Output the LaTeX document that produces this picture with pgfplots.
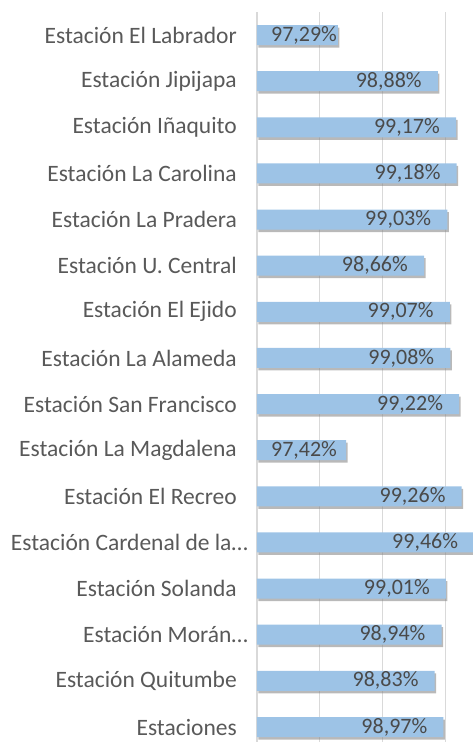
\documentclass[border=0pt]{standalone}
\usepackage{pgfplots}
\pgfplotsset{compat=1.18}
\usepackage{pgfplotstable}
\usepackage{fontspec}
\setmainfont{Carlito}
\usetikzlibrary{shadows}
\definecolor{barblue}{HTML}{9DC3E6}
\definecolor{labgray}{HTML}{595959}
\definecolor{valgray}{HTML}{4A4A4A}
\definecolor{gridgray}{HTML}{D9D9D9}
\pgfplotstableread{
y val lx lab
15 97.29 97.276 97,29\%
14 98.88 98.625 98,88\%
13 99.17 98.915 99,17\%
12 99.18 98.925 99,18\%
11 99.03 98.775 99,03\%
10 98.66 98.405 98,66\%
9 99.07 98.815 99,07\%
8 99.08 98.825 99,08\%
7 99.22 98.965 99,22\%
6 97.42 97.276 97,42\%
5 99.26 99.005 99,26\%
4 99.46 99.205 99,46\%
3 99.01 98.755 99,01\%
2 98.94 98.685 98,94\%
1 98.83 98.575 98,83\%
0 98.97 98.715 98,97\%
}\datatable
\begin{document}
\begin{tikzpicture}
\useasboundingbox (-257pt,0pt) rectangle (216pt,742pt);
\begin{axis}[
  at={(0pt,0pt)}, anchor=south west,
  scale only axis, width=216pt, height=730pt,
  xmin=96, xmax=99.44, ymin=-0.325, ymax=15.5,
  xtick={96,97,98,99}, xticklabels={},
  xmajorgrids, grid style={gridgray, line width=1.3pt},
  ytick={0,1,2,3,4,5,6,7,8,9,10,11,12,13,14,15},
  yticklabels={Estaciones, Estación Quitumbe, {Estación Morán…\hspace*{-11pt}}, Estación Solanda, {Estación Cardenal de la…\hspace*{-11pt}}, Estación El Recreo, Estación La Magdalena, Estación San Francisco, Estación La Alameda, Estación El Ejido, Estación U. Central, Estación La Pradera, Estación La Carolina, Estación Iñaquito, Estación Jipijapa, Estación El Labrador},
  major tick length=0pt,
  axis line style={draw=none},
  yticklabel style={font=\fontsize{23.5}{27}\selectfont, text=labgray, inner sep=0pt, xshift=-20pt},
  clip=false,
]
\addplot[xbar, bar width=20pt, bar shift=0pt, fill=barblue, draw=none,
  drop shadow={shadow xshift=1.5pt, shadow yshift=-2.5pt, fill=black!50, opacity=0.55}]
  table[x=val, y=y] {\datatable};
\addplot[draw=none, mark=none, nodes near coords, point meta=explicit symbolic,
  nodes near coords style={anchor=east, inner sep=0pt, font=\fontsize{22}{26}\selectfont, text=valgray}]
  table[x=lx, y=y, meta=lab] {\datatable};
\end{axis}
\end{tikzpicture}
\end{document}
